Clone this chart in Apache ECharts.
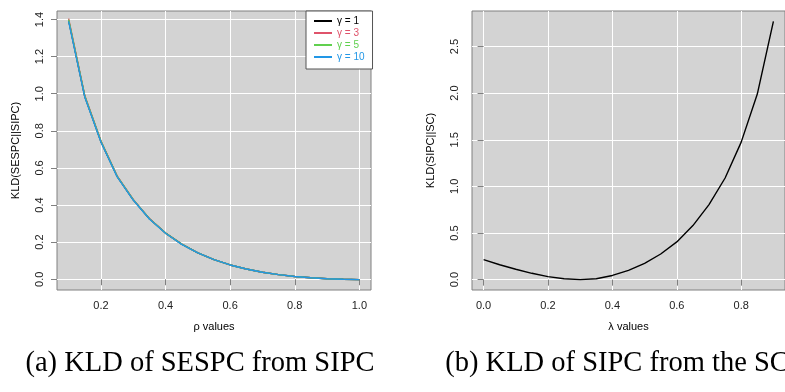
<!DOCTYPE html>
<html>
<head>
<meta charset="utf-8">
<script src="https://cdn.jsdelivr.net/npm/echarts@6/dist/echarts.min.js"></script>
<style>
  html, body { margin: 0; padding: 0; background: #fff; }
  #chart { width: 785px; height: 392px; }
</style>
</head>
<body>
<div id="chart"></div>
<script>
// panel (a): KLD(SESPC||SIPC) against rho, one curve per gamma
const rhoValues = [0.10, 0.15, 0.20, 0.25, 0.30, 0.35, 0.40, 0.45, 0.50, 0.55,
  0.60, 0.65, 0.70, 0.75, 0.80, 0.85, 0.90, 0.95, 1.00];
const kldGamma1 = [1.395, 0.985, 0.742, 0.555, 0.428, 0.326, 0.249, 0.189, 0.142, 0.106,
  0.077, 0.055, 0.038, 0.025, 0.015, 0.008, 0.003, 0.000, -0.002];
const kldGamma3 = [1.405, 0.990, 0.745, 0.557, 0.430, 0.327, 0.249, 0.189, 0.142, 0.106,
  0.077, 0.055, 0.038, 0.025, 0.015, 0.008, 0.003, 0.000, -0.002];
const kldGamma5 = [1.400, 0.988, 0.744, 0.556, 0.429, 0.326, 0.249, 0.189, 0.142, 0.106,
  0.077, 0.055, 0.038, 0.025, 0.015, 0.008, 0.003, 0.000, -0.002];
const kldGamma10 = [1.390, 0.983, 0.740, 0.553, 0.427, 0.325, 0.248, 0.188, 0.142, 0.106,
  0.077, 0.055, 0.038, 0.025, 0.015, 0.008, 0.003, 0.000, -0.002];
const gammaNames = ['γ = 1', 'γ = 3', 'γ = 5', 'γ = 10'];
const gammaColors = ['#000000', '#DF536B', '#61D04F', '#2297E6'];

// panel (b): KLD(SIPC||SC) against lambda
const lambdaValues = [0.00, 0.05, 0.10, 0.15, 0.20, 0.25, 0.30, 0.35, 0.40, 0.45,
  0.50, 0.55, 0.60, 0.65, 0.70, 0.75, 0.80, 0.85, 0.90];
const kldSipcSc = [0.215, 0.160, 0.112, 0.068, 0.032, 0.009, 0.000, 0.010, 0.045, 0.100,
  0.175, 0.275, 0.405, 0.580, 0.805, 1.090, 1.475, 1.990, 2.770];

// tick labels
const rhoTicks = [0.2, 0.4, 0.6, 0.8, 1.0];
const kldTicksA = [0.0, 0.2, 0.4, 0.6, 0.8, 1.0, 1.2, 1.4];
const lambdaTicks = [0.0, 0.2, 0.4, 0.6, 0.8];
const kldTicksB = [0.0, 0.5, 1.0, 1.5, 2.0, 2.5];

const captionA = '(a) KLD of SESPC from SIPC';
const captionB = '(b) KLD of SIPC from the SC';

const sans = 'Liberation Sans, Arial, sans-serif';
const axisGray = '#808080';

function zip(xs, ys) {
  return xs.map((x, i) => [x, ys[i]]);
}

// R-style axis: ticks outside, labels at pretty values, range padded by 4%
function makeAxis(gridIndex, ticks, min, max, name, isY) {
  return {
    type: 'value',
    gridIndex,
    min,
    max,
    name,
    nameLocation: 'middle',
    nameGap: isY ? 36 : 31,
    nameTextStyle: { fontFamily: sans, fontSize: 11, color: '#000' },
    axisLine: { show: false },
    axisTick: {
      show: true, inside: false, length: 6, customValues: ticks,
      lineStyle: { color: axisGray, width: 1 }
    },
    axisLabel: {
      customValues: ticks,
      rotate: isY ? 90 : 0,
      margin: isY ? 12 : 10,
      fontFamily: sans, fontSize: 11, color: '#222',
      formatter: v => v.toFixed(1)
    },
    splitLine: { show: true, lineStyle: { color: '#ffffff', width: 1 } }
  };
}

const chart = echarts.init(document.getElementById('chart'), null, { renderer: 'canvas' });

const gammaSeries = [kldGamma1, kldGamma3, kldGamma5, kldGamma10].map((vals, i) => ({
  name: gammaNames[i],
  type: 'line',
  xAxisIndex: 0,
  yAxisIndex: 0,
  data: zip(rhoValues, vals),
  showSymbol: false,
  symbol: 'none',
  color: gammaColors[i],
  lineStyle: { width: 1.4, color: gammaColors[i] },
  z: 2 + i,
  silent: true
}));

// subfigure captions, each centred under its own panel
function caption(text, cx) {
  return {
    type: 'text',
    x: cx,
    y: 364,
    silent: true,
    style: {
      text,
      fill: '#000',
      font: '28.5px "Liberation Serif", serif',
      textAlign: 'center',
      textVerticalAlign: 'middle'
    }
  };
}

chart.setOption({
  animation: false,
  backgroundColor: '#ffffff',
  graphic: [caption(captionA, 200), caption(captionB, 617)],
  grid: [
    { left: 57, top: 11, width: 314, height: 279, show: true,
      backgroundColor: '#d3d3d3', borderColor: axisGray, borderWidth: 1, containLabel: false },
    { left: 472, top: 11, width: 316, height: 279, show: true,
      backgroundColor: '#d3d3d3', borderColor: axisGray, borderWidth: 1, containLabel: false }
  ],
  legend: {
    orient: 'vertical',
    left: 306,
    top: 11,
    padding: [4, 8, 6, 8],
    itemGap: 0,
    itemWidth: 18,
    itemHeight: 2,
    icon: 'rect',
    backgroundColor: '#ffffff',
    borderColor: '#555555',
    borderWidth: 1,
    borderRadius: 0,
    selectedMode: false,
    textStyle: { fontFamily: sans, fontSize: 10, lineHeight: 12 },
    data: gammaNames.map((n, i) => ({ name: n, textStyle: { color: gammaColors[i] } }))
  },
  xAxis: [
    makeAxis(0, rhoTicks, 0.064, 1.036, 'ρ values', false),
    makeAxis(1, lambdaTicks, -0.036, 0.936, 'λ values', false)
  ],
  yAxis: [
    makeAxis(0, kldTicksA, -0.058, 1.446, 'KLD(SESPC||SIPC)', true),
    makeAxis(1, kldTicksB, -0.111, 2.881, 'KLD(SIPC||SC)', true)
  ],
  series: [
    ...gammaSeries,
    {
      name: 'KLD(SIPC||SC)',
      type: 'line',
      xAxisIndex: 1,
      yAxisIndex: 1,
      data: zip(lambdaValues, kldSipcSc),
      showSymbol: false,
      symbol: 'none',
      color: '#000000',
      lineStyle: { width: 1.4, color: '#000000' },
      silent: true
    }
  ]
});
</script>
</body>
</html>
